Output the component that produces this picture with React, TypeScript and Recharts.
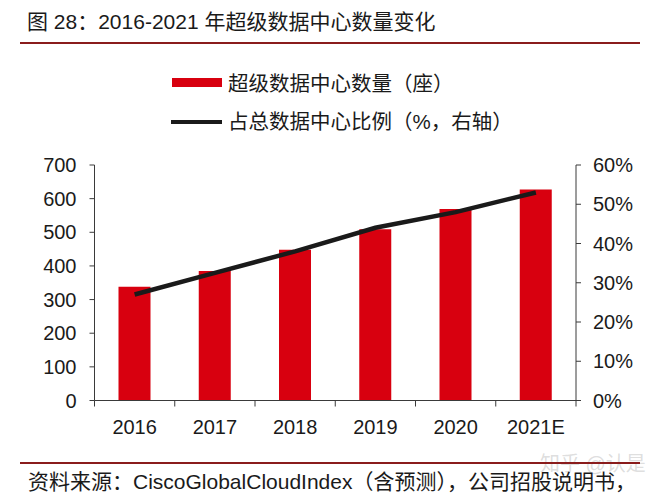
import React from "react";
import { ComposedChart, Bar, Line, XAxis, YAxis } from "recharts";

const categories = ["2016", "2017", "2018", "2019", "2020", "2021E"];
const hyperscaleCount = [338, 385, 448, 509, 569, 627];
const shareOfAll = [27, 32.5, 38, 44, 48, 53];
const leftTicks = [0, 100, 200, 300, 400, 500, 600, 700];
const rightTicks = [0, 10, 20, 30, 40, 50, 60];

const title = "图 28：2016-2021 年超级数据中心数量变化";
const barName = "超级数据中心数量（座）";
const lineName = "占总数据中心比例（%，右轴）";
const source = "资料来源：CiscoGlobalCloudIndex（含预测），公司招股说明书，";
const watermark = "知乎 @认是";

const data = categories.map((c, i) => ({
  year: c,
  count: hyperscaleCount[i],
  share: shareOfAll[i],
}));

const FONT = "'Liberation Sans', Arial, 'Noto Sans CJK SC', sans-serif";
const TEXT = "#1a1a1a";
const AXIS = "#3a3a3a";
const RED = "#D8000F";
const RULE = "#8a1c1c";

const W = 662;
const H = 500;
const margin = { top: 165, left: 34.5, right: 26, bottom: 59.5 };
const Y_W = 60;
const PLOT_W = W - margin.left - margin.right - 2 * Y_W;

const XTick = (props: any) => {
  const { x, y, payload, index } = props;
  const half =
    payload && typeof payload.offset === "number" && payload.offset > 0
      ? payload.offset
      : PLOT_W / categories.length / 2;
  const axisY = y - 18;
  return (
    <g>
      <line x1={x - half} x2={x - half} y1={axisY} y2={axisY + 6} stroke={AXIS} strokeWidth={1} />
      {index === categories.length - 1 && (
        <line x1={x + half} x2={x + half} y1={axisY} y2={axisY + 6} stroke={AXIS} strokeWidth={1} />
      )}
      <text x={x} y={y} dy="0.75em" textAnchor="middle" fill={TEXT} fontSize={20} fontFamily={FONT}>
        {payload.value}
      </text>
    </g>
  );
};

export default function App() {
  return (
    <div style={{ position: "absolute", left: 0, top: 0, width: W, height: H, background: "#fff", fontFamily: FONT }}>
      <div style={{ position: "absolute", left: 27, top: 8, fontSize: 21, color: TEXT, whiteSpace: "nowrap", lineHeight: "28px" }}>
        {title}
      </div>
      <div style={{ position: "absolute", left: 20, top: 42, width: 620, height: 2, background: RULE }} />

      <div style={{ position: "absolute", left: 172, top: 78, width: 50, height: 9, background: RED }} />
      <div style={{ position: "absolute", left: 228, top: 70, fontSize: 20.5, color: TEXT, whiteSpace: "nowrap", lineHeight: "28px" }}>
        {barName}
      </div>
      <div style={{ position: "absolute", left: 171, top: 120, width: 51, height: 4, background: TEXT }} />
      <div style={{ position: "absolute", left: 228, top: 108, fontSize: 20.5, color: TEXT, whiteSpace: "nowrap", lineHeight: "28px" }}>
        {lineName}
      </div>

      <div style={{ position: "absolute", left: 0, top: 0 }}>
        <ComposedChart width={W} height={H} data={data} margin={margin}>
          <XAxis
            dataKey="year"
            xAxisId="x"
            tickLine={false}
            tickSize={6}
            tickMargin={12}
            axisLine={{ stroke: AXIS, strokeWidth: 1 }}
            tick={<XTick />}
            height={40}
            interval={0}
          />
          <YAxis
            yAxisId="left"
            orientation="left"
            width={Y_W}
            domain={[0, 700]}
            ticks={leftTicks}
            tickSize={5}
            tickMargin={13}
            axisLine={{ stroke: AXIS }}
            tickLine={{ stroke: AXIS }}
            tick={{ fill: TEXT, fontSize: 20, fontFamily: FONT }}
            interval={0}
          />
          <YAxis
            yAxisId="right"
            orientation="right"
            width={Y_W}
            domain={[0, 60]}
            ticks={rightTicks}
            tickSize={5}
            tickMargin={12}
            axisLine={{ stroke: AXIS }}
            tickLine={{ stroke: AXIS }}
            tickFormatter={(v: number) => `${v}%`}
            tick={{ fill: TEXT, fontSize: 20, fontFamily: FONT, textAnchor: "start" }}
            interval={0}
          />
          <Bar xAxisId="x" yAxisId="left" dataKey="count" fill={RED} barSize={32} isAnimationActive={false} />
          <Line
            xAxisId="x"
            yAxisId="right"
            dataKey="share"
            type="linear"
            stroke={TEXT}
            strokeWidth={4.5}
            dot={false}
            activeDot={false}
            isAnimationActive={false}
          />
        </ComposedChart>
      </div>

      <div style={{ position: "absolute", left: 540, top: 452, fontSize: 20, color: "rgba(170,170,170,0.4)", whiteSpace: "nowrap", lineHeight: "24px" }}>
        {watermark}
      </div>
      <div style={{ position: "absolute", left: 20, top: 462, width: 620, height: 2, background: RULE }} />
      <div style={{ position: "absolute", left: 28, top: 468, fontSize: 21, color: TEXT, whiteSpace: "nowrap", lineHeight: "28px" }}>
        {source}
      </div>
    </div>
  );
}
